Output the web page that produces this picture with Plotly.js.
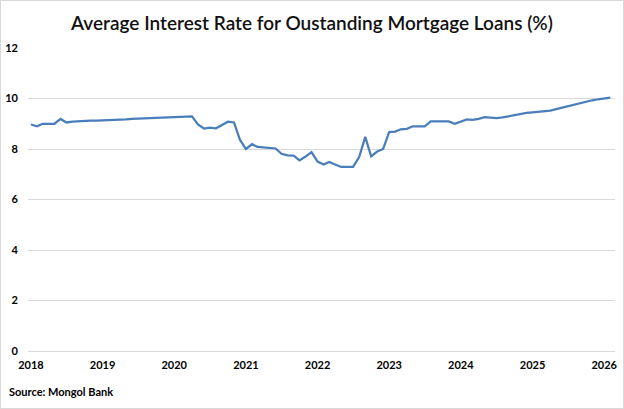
<!DOCTYPE html>
<html>
<head>
<meta charset="utf-8">
<script src="https://cdn.plot.ly/plotly-3.0.1.min.js"></script>
<style>
  html, body { margin: 0; padding: 0; background: #fff; }
  #chart { width: 622px; height: 407px; border: 1px solid #d9d9d9; }
</style>
</head>
<body>
<div id="chart"></div>
<script>
/* Average interest rate on outstanding mortgage loans, monthly, Jan 2018 - Feb 2026 */

const startYear = 2018;
const rates = [
    // 2018
    8.97, 8.90, 9.00, 9.00, 9.00, 9.19, 9.05, 9.08, 9.10, 9.11, 9.12, 9.12,
    // 2019
    9.13, 9.13, 9.13, 9.15, 9.17, 9.19, 9.20, 9.21, 9.22, 9.24, 9.26, 9.25,
    // 2020
    9.27, 9.28, 9.29, 9.29, 8.97, 8.81, 8.85, 8.82, 8.95, 9.08, 9.05, 8.37,
    // 2021
    8.00, 8.19, 8.08, 8.05, 8.03, 8.02, 7.81, 7.75, 7.74, 7.55, 7.70, 7.88,
    // 2022
    7.50, 7.39, 7.49, 7.40, 7.29, 7.29, 7.29, 7.68, 8.48, 7.71, 7.90, 8.00,
    // 2023
    8.67, 8.69, 8.78, 8.80, 8.90, 8.90, 8.90, 9.09, 9.09, 9.09, 9.09, 9.00,
    // 2024
    9.07, 9.17, 9.15, 9.19, 9.26, 9.25, 9.22, 9.25, 9.30, 9.35, 9.39, 9.43,
    // 2025
    9.45, 9.47, 9.49, 9.52, 9.58, 9.64, 9.70, 9.75, 9.82, 9.89, 9.93, 9.97,
    // 2026
    10.00, 10.03,
];
const yearTicks = ['2018', '2019', '2020', '2021', '2022', '2023', '2024', '2025', '2026'];
const yTicks = [0, 2, 4, 6, 8, 10, 12];

// month labels for each value
const months = rates.map((_, i) => {
    const y = startYear + Math.floor(i / 12);
    const m = String(i % 12 + 1).padStart(2, '0');
    return `${y}-${m}-01`;
});

const FONT = 'Lato, "Open Sans", sans-serif';

const trace = {
    x: months,
    y: rates,
    type: 'scatter',
    mode: 'lines',
    line: { color: '#4a7ebb', width: 2.25 },
    hoverinfo: 'x+y',
};

const layout = {
    width: 622,
    height: 407,
    margin: { t: 47, r: 8, b: 57, l: 27 },
    paper_bgcolor: '#fff',
    plot_bgcolor: '#fff',
    showlegend: false,
    font: { family: FONT, color: '#000' },
    title: {
        text: 'Average Interest Rate for Oustanding Mortgage Loans (%)',
        font: { family: FONT, size: 19, color: '#111', weight: 600 },
        x: 0.5,
        xanchor: 'center',
        y: 0.945,
        yanchor: 'middle',
    },
    xaxis: {
        type: 'date',
        range: ['2017-12-17', '2026-02-25'],
        tickvals: yearTicks.map(y => `${y}-01-01`),
        ticktext: yearTicks,
        showgrid: false,
        zeroline: false,
        showline: false,
        ticks: '',
        ticklabelstandoff: 6,
        tickfont: { family: FONT, size: 11, color: '#000', weight: 'bold' },
        fixedrange: true,
    },
    yaxis: {
        range: [0, 12],
        tickvals: yTicks,
        ticktext: yTicks.map(String),
        showgrid: true,
        gridcolor: '#d9d9d9',
        gridwidth: 1,
        zeroline: true,
        zerolinecolor: '#d9d9d9',
        zerolinewidth: 1,
        showline: false,
        ticks: '',
        ticklabelstandoff: 9,
        tickfont: { family: FONT, size: 11, color: '#000', weight: 'bold' },
        fixedrange: true,
    },
    annotations: [{
        text: 'Source: Mongol Bank',
        xref: 'paper', yref: 'paper',
        x: -0.035, y: -0.135,
        xanchor: 'left', yanchor: 'middle',
        showarrow: false,
        font: { family: FONT, size: 11, color: '#000', weight: 'bold' },
    }],
};

Plotly.newPlot('chart', [trace], layout, { displayModeBar: false, staticPlot: true });
</script>
</body>
</html>
